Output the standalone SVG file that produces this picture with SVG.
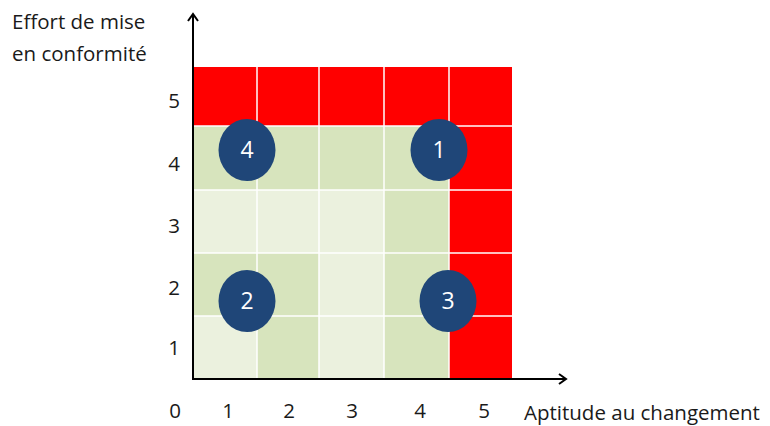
<svg xmlns="http://www.w3.org/2000/svg" width="770" height="426" viewBox="0 0 770 426">
<defs>
<style>
text{font-family:"Open Sans","Liberation Sans",sans-serif;font-size:20.5px;fill:#1a1a1a}
.r{fill:#ff0000}
.d{fill:#d7e4bd}
.l{fill:#ebf1de}
.grid{stroke:#ffffff;stroke-width:1.5}
.c{fill:#1f4678}
.ct{fill:#ffffff;font-size:23px;text-anchor:middle}
.ax{stroke:#000;stroke-width:2;fill:none}
.m{text-anchor:middle}
</style>
<marker id="arr" markerWidth="12" markerHeight="12" refX="9" refY="6" orient="auto" markerUnits="userSpaceOnUse">
<path d="M2,1 L9,6 L2,11" fill="none" stroke="#000" stroke-width="2"/>
</marker>
</defs>
<rect width="770" height="426" fill="#fff"/>
<g id="cells">
<rect class="r" x="193" y="67" width="319" height="59"/>
<rect class="r" x="449" y="126" width="63" height="252"/>
<rect class="d" x="193" y="126" width="256" height="64"/>
<rect class="l" x="193" y="190" width="191" height="63"/>
<rect class="d" x="384" y="190" width="65" height="63"/>
<rect class="d" x="193" y="253" width="126" height="63"/>
<rect class="l" x="319" y="253" width="65" height="63"/>
<rect class="d" x="384" y="253" width="65" height="63"/>
<rect class="l" x="193" y="316" width="64" height="62"/>
<rect class="d" x="257" y="316" width="62" height="62"/>
<rect class="l" x="319" y="316" width="65" height="62"/>
<rect class="d" x="384" y="316" width="65" height="62"/>
<g class="grid">
<line x1="257" y1="67" x2="257" y2="378"/>
<line x1="319" y1="67" x2="319" y2="378"/>
<line x1="384" y1="67" x2="384" y2="378"/>
<line x1="449" y1="67" x2="449" y2="378"/>
<line x1="193" y1="126" x2="512" y2="126"/>
<line x1="193" y1="190" x2="512" y2="190"/>
<line x1="193" y1="253" x2="512" y2="253"/>
<line x1="193" y1="316" x2="512" y2="316"/>
</g>
</g>
<g id="connectors">
<line class="ax" x1="193" y1="380" x2="193" y2="14" marker-end="url(#arr)"/>
<line class="ax" x1="192" y1="379" x2="566" y2="379" marker-end="url(#arr)"/>
</g>
<g id="node-4"><ellipse class="c" cx="247" cy="150" rx="28.5" ry="31"/><text class="ct" x="247" y="158">4</text></g>
<g id="node-1"><ellipse class="c" cx="439" cy="150" rx="28.5" ry="31"/><text class="ct" x="439" y="158">1</text></g>
<g id="node-2"><ellipse class="c" cx="247" cy="301" rx="28.5" ry="31"/><text class="ct" x="247" y="309">2</text></g>
<g id="node-3"><ellipse class="c" cx="448" cy="301" rx="28.5" ry="31"/><text class="ct" x="448" y="309">3</text></g>
<g id="labels">
<text x="12" y="29">Effort de mise</text>
<text x="12" y="61">en conformité</text>
<text class="m" x="174" y="108">5</text>
<text class="m" x="174" y="171">4</text>
<text class="m" x="174" y="233">3</text>
<text class="m" x="174" y="295">2</text>
<text class="m" x="174" y="355">1</text>
<text class="m" x="175" y="418">0</text>
<text class="m" x="228" y="418">1</text>
<text class="m" x="289" y="418">2</text>
<text class="m" x="352" y="418">3</text>
<text class="m" x="420" y="418">4</text>
<text class="m" x="484" y="418">5</text>
<text x="524" y="420">Aptitude au changement</text>
</g>
</svg>
